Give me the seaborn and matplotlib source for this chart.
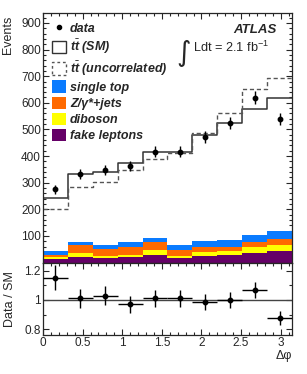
import numpy as np
import pandas as pd
import seaborn as sns
import matplotlib.pyplot as plt
import matplotlib.patches as mpatches
from matplotlib.lines import Line2D
from matplotlib.ticker import MultipleLocator, FixedLocator

# ---------------------------------------------------------------
# values (10 bins in delta phi, 0..pi)
# ---------------------------------------------------------------
n_bins = 10
data_events = [276, 334, 349, 364, 417, 417, 472, 525, 619, 540]
data_err = [17, 19, 19, 19, 21, 21, 22, 23, 25, 23]
sm_total = [243, 334, 340, 374, 417, 417, 478, 526, 576, 618]
uncorr_total = [202, 284, 303, 346, 389, 411, 486, 562, 652, 695]

single_top = [12, 13, 14, 19, 17, 18, 23, 27, 26, 27]
z_jets = [9, 29, 25, 29, 30, 23, 19, 12, 17, 23]
diboson = [6, 15, 9, 9, 16, 9, 14, 18, 23, 22]
fake_leptons = [15, 21, 17, 21, 30, 17, 26, 27, 36, 45]

ratio = [1.15, 1.01, 1.03, 0.97, 1.01, 1.01, 0.985, 1.0, 1.07, 0.876]
ratio_err = [0.085, 0.065, 0.065, 0.06, 0.06, 0.06, 0.055, 0.055, 0.055, 0.05]

processes = ["single top", "Z/γ*+jets", "diboson", "fake leptons"]
colors = {"single top": "#0a7bff", "Z/γ*+jets": "#ff6a00",
          "diboson": "#ffff00", "fake leptons": "#650067"}

edges = np.linspace(0, np.pi, n_bins + 1)
centers = 0.5 * (edges[:-1] + edges[1:])
half_w = 0.5 * (edges[1] - edges[0])

# long table for the stacked backgrounds
rows = []
for name, vals in zip(processes, [single_top, z_jets, diboson, fake_leptons]):
    for c, v in zip(centers, vals):
        rows.append({"dphi": c, "events": v, "process": name})
bkg = pd.DataFrame(rows)

# ---------------------------------------------------------------
# style
# ---------------------------------------------------------------
sns.set_style("ticks")
plt.rcParams["font.family"] = ["Liberation Sans", "DejaVu Sans"]
plt.rcParams["mathtext.fontset"] = "custom"
plt.rcParams["mathtext.rm"] = "Liberation Sans"
plt.rcParams["mathtext.it"] = "Liberation Sans:italic:bold"
plt.rcParams["font.size"] = 8

fig = plt.figure(figsize=(3.07, 3.74), dpi=100)
ax = fig.add_axes([0.140, 0.298, 0.811, 0.667])
ax2 = fig.add_axes([0.140, 0.104, 0.811, 0.194], sharex=ax)

# stacked backgrounds
sns.histplot(data=bkg, x="dphi", weights="events", hue="process",
             hue_order=processes, palette=colors, multiple="stack",
             bins=list(edges), element="step", alpha=1, linewidth=0,
             legend=False, ax=ax)

# ttbar predictions as step lines
step_x = list(edges)
sns.lineplot(x=step_x, y=sm_total + [sm_total[-1]], drawstyle="steps-post",
             color="#333333", linewidth=1.1, ax=ax)
sns.lineplot(x=step_x, y=uncorr_total + [uncorr_total[-1]], drawstyle="steps-post",
             color="#555555", linewidth=1.0, linestyle=(0, (3, 2)), ax=ax)

# data
ax.errorbar(centers, data_events, yerr=data_err, fmt="o", color="black",
            ms=3.2, elinewidth=1, capsize=0, zorder=5)

ax.set_xlim(0, np.pi)
ax.set_ylim(0, 937)
ax.set_xlabel("")
ax.set_ylabel("")
ax.yaxis.set_major_locator(FixedLocator([100, 200, 300, 400, 500, 600, 700, 800, 900]))
ax.yaxis.set_minor_locator(MultipleLocator(20))
ax.tick_params(axis="x", labelbottom=False)

# legend
handles = [
    Line2D([], [], marker="o", color="black", ls="none", ms=3),
    mpatches.Patch(facecolor="none", edgecolor="#333333", linewidth=1),
    mpatches.Patch(facecolor="none", edgecolor="#555555", linewidth=1, linestyle=(0, (2, 2))),
] + [mpatches.Patch(facecolor=colors[p], edgecolor="none") for p in processes]
labels = ["data", r"$t\bar{t}$ (SM)", r"$t\bar{t}$ (uncorrelated)"] + processes
ax.legend(handles, labels, loc="upper left", bbox_to_anchor=(0.036, 0.965),
          frameon=False, borderpad=0, borderaxespad=0, handlelength=1.15,
          handleheight=1.15, handletextpad=0.3, labelspacing=0.22,
          prop={"weight": "bold", "style": "italic", "size": 9})

ax.text(0.94, 0.932, "ATLAS", transform=ax.transAxes, ha="right", va="center",
        fontsize=9.5, fontweight="bold", fontstyle="italic")
ax.text(0.535, 0.842, "∫", transform=ax.transAxes, ha="left", va="center",
        fontsize=20, family=["DejaVu Sans"])
ax.text(0.603, 0.862, r"Ldt = 2.1 fb$^{-1}$", transform=ax.transAxes,
        ha="left", va="center", fontsize=9.2)

# ratio panel
ax2.axhline(1.0, color="#444444", linewidth=1)
ax2.errorbar(centers, ratio, xerr=half_w, yerr=ratio_err, fmt="o", color="black",
             ms=3.2, elinewidth=1, capsize=0, zorder=5)
ax2.set_ylim(0.76, 1.255)
ax2.set_yticks([0.8, 1.0, 1.2])
ax2.set_yticklabels(["0.8", "1", "1.2"])
ax2.yaxis.set_minor_locator(MultipleLocator(0.1))
ax2.set_xticks([0, 0.5, 1, 1.5, 2, 2.5, 3])
ax2.set_xticklabels(["0", "0.5", "1", "1.5", "2", "2.5", "3"])
ax2.xaxis.set_minor_locator(MultipleLocator(0.1))
ax2.set_xlabel("")
ax2.set_ylabel("")

for a in (ax, ax2):
    a.tick_params(which="both", direction="in", top=True, right=True,
                  labelsize=8.5, pad=1.5, width=0.8)
    a.tick_params(which="major", length=4.5)
    a.tick_params(which="minor", length=2.3)
    for s in a.spines.values():
        s.set_linewidth(0.9)
        s.set_visible(True)

fig.text(0.027, 0.958, "Events", rotation=90, ha="center", va="top", fontsize=9)
fig.text(0.033, 0.201, "Data / SM", rotation=90, ha="center", va="center", fontsize=9)
fig.text(0.951, 0.047, "Δφ", ha="right", va="center", fontsize=9)

fig.savefig("out.png", dpi=100)
